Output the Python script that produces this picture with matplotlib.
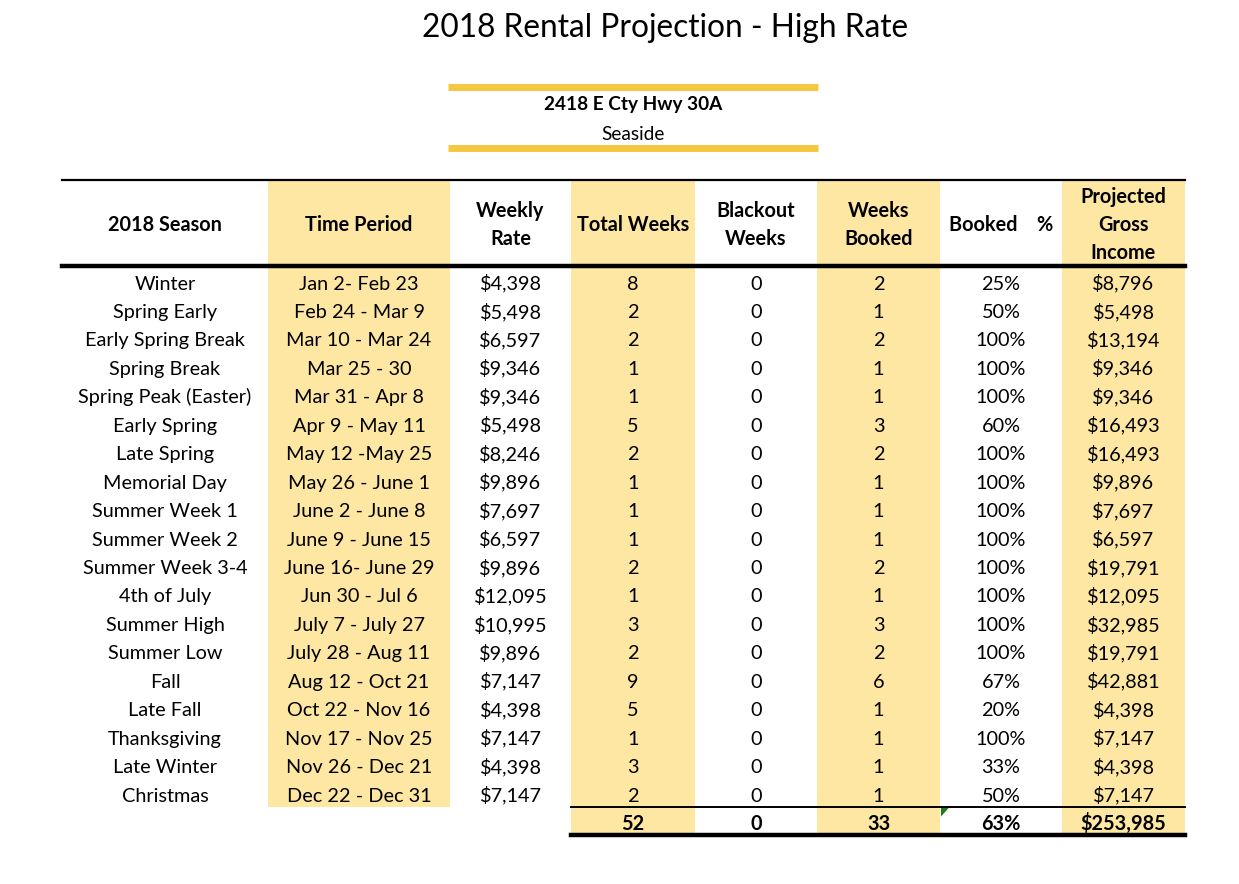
"""2018 rental projection table, drawn as a matplotlib figure."""

import matplotlib
matplotlib.use("Agg")
import matplotlib.pyplot as plt
from matplotlib.patches import Rectangle, Polygon

plt.rcParams["font.family"] = ["Lato", "DejaVu Sans"]

title = "2018 Rental Projection - High Rate"
address = "2418 E Cty Hwy 30A"
town = "Seaside"

headers = ["2018 Season", "Time Period", "Weekly\nRate", "Total Weeks",
           "Blackout\nWeeks", "Weeks\nBooked", "Booked    %", "Projected\nGross\nIncome"]

seasons = ["Winter", "Spring Early", "Early Spring Break", "Spring Break",
           "Spring Peak (Easter)", "Early Spring", "Late Spring", "Memorial Day",
           "Summer Week 1", "Summer Week 2", "Summer Week 3-4", "4th of July",
           "Summer High", "Summer Low", "Fall", "Late Fall", "Thanksgiving",
           "Late Winter", "Christmas"]
periods = ["Jan 2- Feb 23", "Feb 24 - Mar 9", "Mar 10 - Mar 24", "Mar 25 - 30",
           "Mar 31 - Apr 8", "Apr 9 - May 11", "May 12 -May 25", "May 26 - June 1",
           "June 2 - June 8", "June 9 - June 15", "June 16- June 29", "Jun 30 - Jul 6",
           "July 7 - July 27", "July 28 - Aug 11", "Aug 12 - Oct 21", "Oct 22 - Nov 16",
           "Nov 17 - Nov 25", "Nov 26 - Dec 21", "Dec 22 - Dec 31"]
weekly_rate = [4398, 5498, 6597, 9346, 9346, 5498, 8246, 9896, 7697, 6597,
               9896, 12095, 10995, 9896, 7147, 4398, 7147, 4398, 7147]
total_weeks = [8, 2, 2, 1, 1, 5, 2, 1, 1, 1, 2, 1, 3, 2, 9, 5, 1, 3, 2]
blackout = [0] * 19
weeks_booked = [2, 1, 2, 1, 1, 3, 2, 1, 1, 1, 2, 1, 3, 2, 6, 1, 1, 1, 1]
booked_pct = [25, 50, 100, 100, 100, 60, 100, 100, 100, 100, 100, 100, 100,
              100, 67, 20, 100, 33, 50]
gross_income = [8796, 5498, 13194, 9346, 9346, 16493, 16493, 9896, 7697, 6597,
                19791, 12095, 32985, 19791, 42881, 4398, 7147, 4398, 7147]
totals = ["", "", "", "52", "0", "33", "63%", "$253,985"]

# layout (pixels)
col_edges = [62, 268, 450, 571, 695, 817, 940, 1062, 1185]
shaded_cols = [1, 3, 5, 7]
header_top, header_bot = 180, 266
row_h = 28.45
base_off = 23.5
shade = "#FDE7A3"
gold = "#F5C842"
fs = 14.3

fig = plt.figure(figsize=(12.39, 8.84), dpi=100)
ax = fig.add_axes([0, 0, 1, 1])
ax.set_xlim(0, 1239)
ax.set_ylim(884, 0)
ax.axis("off")

n = len(seasons)
data_bot = header_bot + n * row_h
total_bot = data_bot + row_h

# shaded column backgrounds
for c in shaded_cols:
    x0, x1 = col_edges[c], col_edges[c + 1]
    bottom = data_bot if c == 1 else total_bot
    ax.add_patch(Rectangle((x0, header_top), x1 - x0, bottom - header_top,
                           facecolor=shade, edgecolor="none", zorder=0))

# title and address block
ax.text(665, 28, title, ha="center", va="center", fontsize=22.8)
ax.plot([448, 818], [87, 87], color=gold, lw=5, solid_capstyle="butt")
ax.plot([448, 818], [148, 148], color=gold, lw=5, solid_capstyle="butt")
ax.text(633, 110, address, ha="center", va="baseline", fontsize=13.7, fontweight="bold")
ax.text(633, 140, town, ha="center", va="baseline", fontsize=13.7)

# header
for c, h in enumerate(headers):
    xc = (col_edges[c] + col_edges[c + 1]) / 2
    ax.text(xc, (header_top + header_bot) / 2 + 2, h, ha="center", va="center",
            fontsize=fs, fontweight="bold", linespacing=1.5)

# rules
ax.plot([col_edges[0], col_edges[-1]], [header_top, header_top], color="black", lw=1.6)
ax.plot([col_edges[0], col_edges[-1]], [header_bot, header_bot], color="black", lw=3.2)
ax.plot([col_edges[3], col_edges[-1]], [data_bot, data_bot], color="black", lw=1.4)
ax.plot([col_edges[3], col_edges[-1]], [total_bot, total_bot], color="black", lw=3.2)

# data rows
for i in range(n):
    yb = header_bot + i * row_h + base_off
    row = [seasons[i], periods[i], f"${weekly_rate[i]:,}", str(total_weeks[i]),
           str(blackout[i]), str(weeks_booked[i]), f"{booked_pct[i]}%",
           f"${gross_income[i]:,}"]
    for c, val in enumerate(row):
        xc = (col_edges[c] + col_edges[c + 1]) / 2
        ax.text(xc, yb, val, ha="center", va="baseline", fontsize=fs)

# totals
yb = data_bot + base_off
for c, val in enumerate(totals):
    if val:
        xc = (col_edges[c] + col_edges[c + 1]) / 2
        ax.text(xc, yb, val, ha="center", va="baseline", fontsize=fs, fontweight="bold")

# comment marker triangle
x6 = col_edges[6]
ax.add_patch(Polygon([[x6 + 1, data_bot + 1], [x6 + 9, data_bot + 1], [x6 + 1, data_bot + 10]],
                     closed=True, facecolor="#1E7B1E", edgecolor="none"))

fig.savefig("out.png", dpi=100)
plt.close(fig)
